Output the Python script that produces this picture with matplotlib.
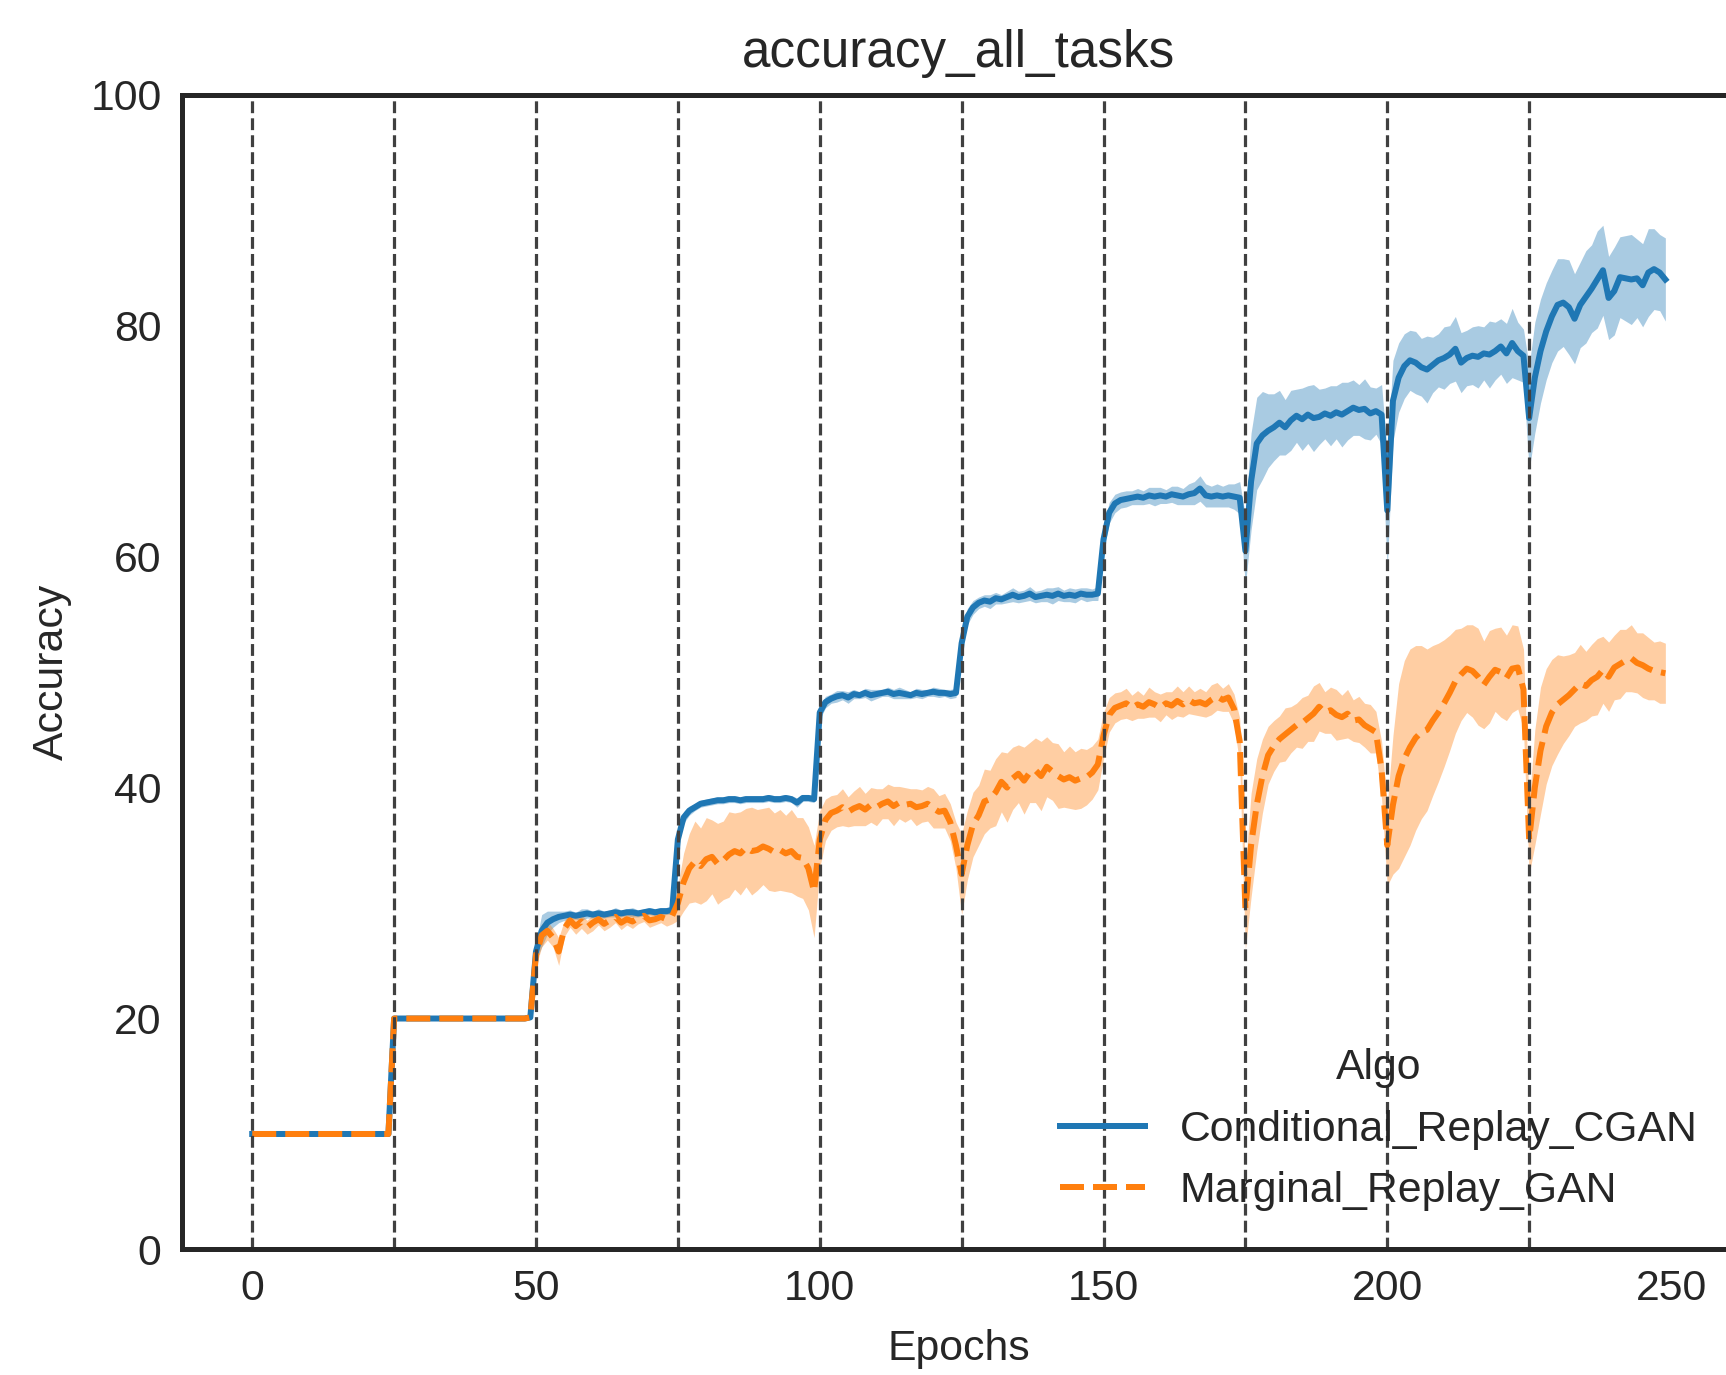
import numpy as np
import matplotlib
matplotlib.use("Agg")
import matplotlib.pyplot as plt
from matplotlib.lines import Line2D

# epochs and task boundaries
epochs = np.arange(250)
task_starts = [0, 25, 50, 75, 100, 125, 150, 175, 200, 225]
algo_names = ["Conditional_Replay_CGAN", "Marginal_Replay_GAN"]

# Conditional_Replay_CGAN: mean accuracy per epoch (one row per task)
cond_mean = [
    10.0, 10.0, 10.0, 10.0, 10.0, 10.0, 10.0, 10.0, 10.0, 10.0, 10.0, 10.0, 10.0, 10.0, 10.0, 10.0, 10.0, 10.0, 10.0, 10.0, 10.0, 10.0, 10.0, 10.0, 10.0,
    20.0, 20.0, 20.0, 20.0, 20.0, 20.0, 20.0, 20.0, 20.0, 20.0, 20.0, 20.0, 20.0, 20.0, 20.0, 20.0, 20.0, 20.0, 20.0, 20.0, 20.0, 20.0, 20.0, 20.0, 20.1,
    25.8, 27.6, 28.3, 28.6, 28.8, 28.9, 29.0, 28.9, 29.0, 29.1, 29.0, 29.1, 29.0, 29.1, 29.2, 29.1, 29.2, 29.2, 29.1, 29.2, 29.3, 29.2, 29.3, 29.3, 29.4,
    35.5, 37.4, 38.0, 38.3, 38.6, 38.7, 38.8, 38.9, 38.9, 39.0, 39.0, 38.9, 39.0, 39.0, 39.0, 39.0, 39.1, 39.0, 39.0, 39.1, 39.0, 38.7, 39.1, 39.1, 39.0,
    46.5, 47.4, 47.7, 47.9, 48.0, 47.8, 48.1, 48.0, 48.2, 48.0, 48.1, 48.2, 48.3, 48.1, 48.2, 48.1, 48.0, 48.2, 48.1, 48.2, 48.3, 48.2, 48.2, 48.1, 48.2,
    52.5, 54.8, 55.6, 56.0, 56.2, 56.1, 56.4, 56.3, 56.5, 56.7, 56.5, 56.6, 56.8, 56.5, 56.6, 56.7, 56.6, 56.8, 56.6, 56.7, 56.6, 56.8, 56.7, 56.7, 56.8,
    61.5, 63.8, 64.6, 64.9, 65.0, 65.1, 65.2, 65.1, 65.3, 65.2, 65.3, 65.2, 65.4, 65.3, 65.2, 65.4, 65.5, 65.9, 65.3, 65.2, 65.3, 65.2, 65.3, 65.2, 65.1,
    60.5, 66.5, 69.8, 70.5, 70.9, 71.2, 71.6, 71.2, 71.8, 72.2, 71.9, 72.3, 72.0, 72.1, 72.4, 72.2, 72.5, 72.3, 72.6, 72.9, 72.7, 72.8, 72.4, 72.6, 72.3,
    64.0, 73.5, 75.5, 76.5, 77.0, 76.8, 76.4, 76.2, 76.6, 77.0, 77.2, 77.5, 78.0, 76.8, 77.2, 77.4, 77.3, 77.6, 77.5, 77.8, 78.2, 77.6, 78.5, 77.8, 77.4,
    72.0, 75.5, 77.8, 79.5, 80.8, 81.8, 82.0, 81.6, 80.6, 81.8, 82.5, 83.2, 84.0, 84.8, 82.4, 83.0, 84.2, 84.1, 84.0, 84.1, 83.5, 84.6, 84.9, 84.6, 84.0,
]
cond_ci = [
    0.0, 0.0, 0.0, 0.0, 0.0, 0.0, 0.0, 0.0, 0.0, 0.0, 0.0, 0.0, 0.0, 0.0, 0.0, 0.0, 0.0, 0.0, 0.0, 0.0, 0.0, 0.0, 0.0, 0.0, 0.0,
    0.1, 0.1, 0.1, 0.1, 0.1, 0.1, 0.1, 0.1, 0.1, 0.1, 0.1, 0.1, 0.1, 0.1, 0.1, 0.1, 0.1, 0.1, 0.1, 0.1, 0.1, 0.1, 0.1, 0.1, 0.1,
    0.8, 1.4, 1.0, 0.7, 0.5, 0.4, 0.4, 0.3, 0.5, 0.4, 0.3, 0.4, 0.3, 0.3, 0.4, 0.3, 0.3, 0.4, 0.3, 0.3, 0.3, 0.3, 0.3, 0.3, 0.3,
    0.6, 0.5, 0.4, 0.3, 0.3, 0.3, 0.3, 0.3, 0.3, 0.3, 0.3, 0.3, 0.3, 0.3, 0.3, 0.3, 0.3, 0.3, 0.3, 0.3, 0.3, 0.4, 0.3, 0.3, 0.3,
    0.6, 0.5, 0.4, 0.5, 0.4, 0.5, 0.4, 0.3, 0.4, 0.5, 0.4, 0.3, 0.4, 0.4, 0.5, 0.4, 0.3, 0.4, 0.4, 0.3, 0.4, 0.4, 0.3, 0.4, 0.4,
    0.8, 0.7, 0.6, 0.5, 0.5, 0.6, 0.5, 0.4, 0.5, 0.6, 0.5, 0.5, 0.6, 0.5, 0.5, 0.6, 0.7, 0.6, 0.5, 0.6, 0.6, 0.5, 0.6, 0.5, 0.6,
    1.0, 0.9, 0.8, 0.7, 0.7, 0.6, 0.7, 0.6, 0.7, 0.8, 0.7, 0.6, 0.7, 0.8, 0.7, 0.9, 1.0, 1.1, 1.0, 0.9, 1.0, 0.9, 1.0, 1.1, 1.4,
    3.0, 4.2, 4.0, 3.8, 3.2, 2.9, 2.8, 2.4, 2.6, 2.3, 2.7, 2.5, 2.9, 2.4, 2.2, 2.6, 2.3, 2.8, 2.5, 2.4, 2.2, 2.6, 2.3, 2.0, 2.6,
    5.0, 3.5, 3.0, 2.8, 2.6, 2.7, 2.5, 2.9, 2.4, 2.3, 2.7, 2.5, 2.8, 2.6, 2.4, 2.5, 2.7, 2.3, 2.9, 2.5, 2.4, 2.6, 3.0, 2.5, 2.3,
    4.5, 4.8, 4.5, 4.2, 4.0, 4.0, 3.8, 4.1, 3.9, 3.7, 4.0, 3.8, 4.2, 3.9, 3.6, 3.8, 3.5, 3.7, 3.9, 3.4, 3.6, 3.8, 3.5, 3.3, 3.6,
]

# Marginal_Replay_GAN: mean accuracy per epoch (one row per task)
marg_mean = [
    10.0, 10.0, 10.0, 10.0, 10.0, 10.0, 10.0, 10.0, 10.0, 10.0, 10.0, 10.0, 10.0, 10.0, 10.0, 10.0, 10.0, 10.0, 10.0, 10.0, 10.0, 10.0, 10.0, 10.0, 10.0,
    20.0, 20.0, 20.0, 20.0, 20.0, 20.0, 20.0, 20.0, 20.0, 20.0, 20.0, 20.0, 20.0, 20.0, 20.0, 20.0, 20.0, 20.0, 20.0, 20.0, 20.0, 20.0, 20.0, 20.0, 20.1,
    25.5, 27.2, 27.6, 27.0, 25.8, 27.8, 28.5, 28.0, 28.4, 27.9, 28.3, 28.6, 28.2, 28.5, 28.8, 28.3, 28.6, 28.4, 28.7, 28.9, 28.5, 28.6, 28.8, 28.6, 28.9,
    30.0, 31.8, 33.0, 33.6, 33.2, 33.8, 34.0, 33.4, 33.7, 34.2, 34.5, 34.3, 34.8, 34.5, 34.6, 34.9, 34.7, 34.4, 34.6, 34.3, 34.5, 34.0, 33.9, 33.0, 31.0,
    35.5, 37.2, 37.8, 38.0, 38.3, 37.9, 38.2, 38.4, 38.1, 38.5, 38.3, 38.6, 38.8, 38.4, 38.7, 38.5, 38.6, 38.3, 38.4, 38.6, 38.2, 37.9, 38.0, 37.0, 35.0,
    32.5, 35.0, 36.8, 37.6, 38.8, 39.0, 39.6, 40.5, 40.0, 40.8, 41.2, 40.6, 41.3, 41.5, 41.0, 41.8, 41.4, 41.0, 40.7, 40.9, 40.6, 40.8, 40.9, 41.3, 42.0,
    44.5, 46.3, 46.9, 47.1, 47.3, 46.9, 47.2, 47.0, 47.4, 47.2, 46.9, 47.3, 47.1, 47.5, 47.2, 47.6, 47.3, 47.4, 47.2, 47.6, 47.9, 47.6, 47.8, 46.8, 44.0,
    29.5, 35.0, 38.5, 41.0, 42.8, 43.6, 44.2, 44.6, 45.0, 45.4, 45.6, 46.0, 46.4, 47.0, 46.5, 46.7, 46.3, 46.1, 46.4, 45.8, 45.9, 45.4, 45.1, 44.8, 41.5,
    35.0, 38.5, 41.0, 42.5, 43.5, 44.3, 44.8, 45.0, 45.8, 46.5, 47.3, 48.2, 49.2, 49.8, 50.3, 50.1, 49.6, 48.9, 49.6, 50.2, 50.0, 49.5, 50.3, 50.4, 48.5,
    35.5, 40.0, 43.2, 45.3, 46.5, 47.2, 47.6, 48.0, 48.5, 49.0, 48.8, 49.3, 49.6, 50.2, 49.6, 50.4, 50.7, 51.0, 51.2, 50.8, 50.6, 50.3, 50.1, 50.0, 49.9,
]
marg_ci = [
    0.0, 0.0, 0.0, 0.0, 0.0, 0.0, 0.0, 0.0, 0.0, 0.0, 0.0, 0.0, 0.0, 0.0, 0.0, 0.0, 0.0, 0.0, 0.0, 0.0, 0.0, 0.0, 0.0, 0.0, 0.0,
    0.1, 0.1, 0.1, 0.1, 0.1, 0.1, 0.1, 0.1, 0.1, 0.1, 0.1, 0.1, 0.1, 0.1, 0.1, 0.1, 0.1, 0.1, 0.1, 0.1, 0.1, 0.1, 0.1, 0.1, 0.1,
    1.0, 1.0, 0.8, 0.8, 1.2, 0.7, 0.6, 0.7, 0.6, 0.6, 0.7, 0.5, 0.6, 0.6, 0.5, 0.6, 0.5, 0.6, 0.5, 0.5, 0.6, 0.5, 0.5, 0.6, 0.7,
    1.5, 2.5, 3.0, 3.5, 3.3, 3.6, 3.2, 3.5, 3.4, 3.7, 3.3, 3.6, 3.4, 3.8, 3.5, 3.3, 3.6, 3.4, 3.5, 3.3, 3.6, 3.4, 3.5, 3.6, 4.0,
    2.5, 1.8, 1.5, 1.4, 1.6, 1.3, 1.5, 1.7, 1.4, 1.5, 1.6, 1.3, 1.5, 1.7, 1.4, 1.5, 1.3, 1.6, 1.4, 1.5, 1.7, 1.4, 1.5, 1.6, 2.0,
    3.5, 3.0, 2.8, 2.6, 2.8, 2.5, 2.9, 2.6, 3.0, 2.7, 2.5, 2.9, 2.6, 2.8, 3.0, 2.6, 2.5, 2.8, 2.4, 2.7, 2.5, 2.6, 2.4, 2.3, 2.2,
    2.0, 1.5, 1.3, 1.2, 1.3, 1.1, 1.2, 1.0, 1.3, 1.1, 1.2, 1.0, 1.2, 1.3, 1.1, 1.2, 1.0, 1.2, 1.1, 1.3, 1.2, 1.0, 1.2, 1.3, 2.0,
    3.5, 4.5, 4.0, 3.2, 2.5, 2.2, 2.0, 2.3, 2.0, 1.9, 2.2, 2.0, 2.4, 2.1, 1.8, 2.0, 2.2, 1.9, 2.1, 1.8, 2.0, 1.9, 2.1, 1.8, 2.5,
    3.5, 6.0, 8.0, 8.5, 8.5, 8.0, 7.5, 7.0, 6.5, 6.0, 5.5, 5.0, 4.5, 4.0, 3.8, 4.0, 4.2, 3.8, 4.0, 3.6, 3.9, 3.7, 3.8, 3.6, 3.5,
    3.0, 5.0, 5.5, 5.0, 4.6, 4.3, 3.8, 3.5, 3.2, 3.4, 3.0, 3.1, 3.3, 2.9, 3.0, 2.8, 3.0, 2.7, 2.9, 2.6, 2.8, 2.7, 2.5, 2.7, 2.6,
]

plt.rcParams["font.family"] = ["Liberation Sans", "DejaVu Sans"]
text_col = "0.15"

fig = plt.figure(figsize=(1726 / 288, 1375 / 288), dpi=288)
ax = fig.add_axes([0.1052, 0.0913, 0.9006, 0.8398])

blue = "#1f77b4"
orange = "#ff7f0e"

cm = np.array(cond_mean)
cc = np.array(cond_ci)
mm = np.array(marg_mean)
mc = np.array(marg_ci)

ax.fill_between(epochs, cm - cc, cm + cc, color=blue, alpha=0.38, lw=0)
ax.plot(epochs, cm, color=blue, lw=1.5)
ax.fill_between(epochs, mm - mc, mm + mc, color=orange, alpha=0.38, lw=0)
ax.plot(epochs, mm, color=orange, lw=1.5, linestyle=(0, (4, 1.5)))

for t in task_starts:
    ax.axvline(t, color="0.25", lw=0.8, linestyle="--")

ax.set_xlim(-12.45, 261.45)
ax.set_ylim(0, 100)
ax.set_xticks([0, 50, 100, 150, 200, 250])
ax.set_yticks([0, 20, 40, 60, 80, 100])
ax.tick_params(length=0, labelsize=10.7, colors=text_col, pad=5)
for s in ax.spines.values():
    s.set_color(text_col)
    s.set_linewidth(1.25)

ax.set_title("accuracy_all_tasks", fontsize=12.8, color=text_col, pad=7)
ax.set_xlabel("Epochs", fontsize=10.7, color=text_col, labelpad=5)
ax.set_ylabel("Accuracy", fontsize=10.7, color=text_col, labelpad=4.5)

handles = [
    Line2D([], [], color=blue, lw=1.5),
    Line2D([], [], color=orange, lw=1.5, linestyle=(0, (4, 1.5))),
]
leg = ax.legend(handles, algo_names, title="Algo", loc="lower right",
                frameon=False, fontsize=10.7, title_fontsize=10.7)
for txt in leg.get_texts():
    txt.set_color(text_col)
leg.get_title().set_color(text_col)

fig.savefig("out.png", dpi=288)
